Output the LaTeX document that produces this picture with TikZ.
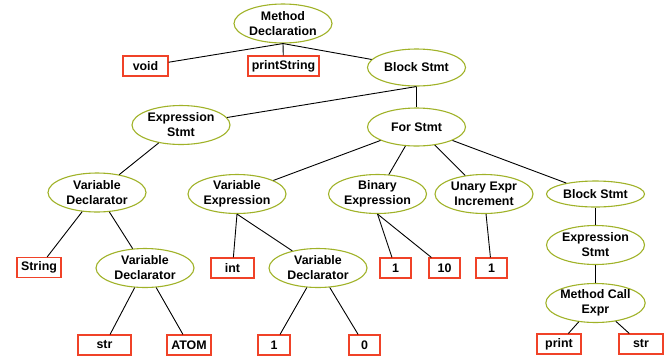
\documentclass[tikz,border=0pt]{standalone}
\usepackage{fontspec}
\setmainfont{Liberation Sans}
\usetikzlibrary{shapes.geometric}
\definecolor{ellgreen}{RGB}{160,178,40}
\definecolor{boxred}{RGB}{240,66,40}
\tikzset{
  txt/.style={font=\bfseries\fontsize{12.4}{15}\selectfont, align=center, text=black},
  ell/.style={txt, ellipse, draw=ellgreen, line width=1.1pt, inner sep=0pt, minimum width=98pt, minimum height=39pt},
  flat/.style={ell, minimum height=26pt},
  leaf/.style={txt, rectangle, draw=boxred, line width=1.1pt, inner sep=0pt, minimum height=20pt, minimum width=#1},
  leaf/.default=44pt,
  edge/.style={draw=black, line width=0.9pt}
}
\begin{document}
\begin{tikzpicture}[x=1pt,y=-1pt]
\useasboundingbox (0,0) rectangle (667,360);
% nodes
\node[ell] (md) at (283,23.5) {Method\\Declaration};
\node[leaf=45pt] (void) at (145.5,66) {void};
\node[leaf=71pt] (ps) at (283.5,66) {printString};
\node[ell, minimum height=37pt] (bs1) at (416.5,67.5) {Block Stmt};
\node[ell] (es1) at (181,125) {Expression\\Stmt};
\node[ell, minimum height=38pt] (for) at (416.5,127) {For Stmt};
\node[ell] (vd1) at (97,192.5) {Variable\\Declarator};
\node[ell] (ve) at (237,194) {Variable\\Expression};
\node[ell] (be) at (377.5,194) {Binary\\Expression};
\node[ell] (ue) at (484,194) {Unary Expr\\Increment};
\node[flat] (bs2) at (595.5,194) {Block Stmt};
\node[leaf=44pt] (string) at (39,267.5) {String};
\node[ell] (vd2) at (145,268) {Variable\\Declarator};
\node[leaf=43pt] (int) at (232.5,268) {int};
\node[ell] (vd3) at (318,268) {Variable\\Declarator};
\node[leaf=31pt] (b1) at (395.5,268) {1};
\node[leaf=31pt] (b10) at (444.5,268) {10};
\node[leaf=31pt] (u1) at (491.5,268) {1};
\node[ell] (es2) at (595.5,245) {Expression\\Stmt};
\node[ell] (mce) at (595.5,303) {Method Call\\Expr};
\node[leaf=53pt] (str1) at (104.5,345) {str};
\node[leaf=44pt] (atom) at (189,345) {ATOM};
\node[leaf=32pt] (one) at (274,345) {1};
\node[leaf=31pt] (zero) at (364.5,345) {0};
\node[leaf=44pt] (print) at (559,344) {print};
\node[leaf=44pt] (str2) at (641,344) {str};
% edges
\path[edge] (md.south) -- (void);
\path[edge] (md.south) -- (ps);
\path[edge] (md.south) -- (bs1);
\path[edge] (bs1.south) -- (es1);
\path[edge] (bs1.south) -- (for);
\path[edge] (es1) -- (vd1);
\path[edge] (for) -- (ve);
\path[edge] (for) -- (be);
\path[edge] (for) -- (ue);
\path[edge] (for) -- (bs2);
\path[edge] (vd1) -- (string);
\path[edge] (vd1) -- (vd2);
\path[edge] (vd2) -- (str1);
\path[edge] (vd2) -- (atom);
\path[edge] (ve.south) -- (int);
\path[edge] (ve.south) -- (vd3);
\path[edge] (vd3) -- (one);
\path[edge] (vd3) -- (zero);
\path[edge] (be.south) -- (b1);
\path[edge] (be.south) -- (b10);
\path[edge] (ue) -- (u1);
\path[edge] (bs2) -- (es2);
\path[edge] (es2) -- (mce);
\path[edge] (mce) -- (print);
\path[edge] (mce) -- (str2);
\end{tikzpicture}
\end{document}
